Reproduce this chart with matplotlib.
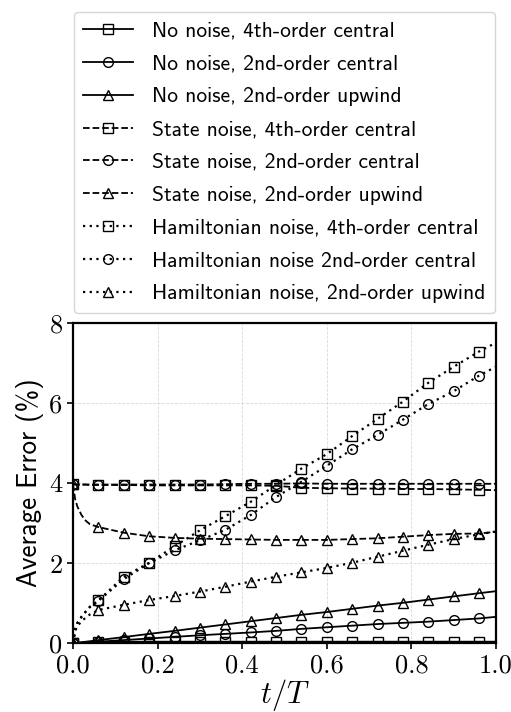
import numpy as np
import matplotlib
matplotlib.use("Agg")
import matplotlib.pyplot as plt

plt.rcParams["mathtext.fontset"] = "cm"

# time samples (fraction of T)
t = [0, 0.005, 0.01, 0.02, 0.03, 0.04, 0.06, 0.12, 0.18, 0.24, 0.30, 0.36,
     0.42, 0.48, 0.54, 0.60, 0.66, 0.72, 0.78, 0.84, 0.90, 0.96, 1.0]

# average error (%)
no_noise_4c = [0, 0.005, 0.01, 0.015, 0.02, 0.02, 0.03, 0.04, 0.04, 0.04, 0.04, 0.04,
               0.04, 0.04, 0.04, 0.04, 0.04, 0.04, 0.04, 0.04, 0.04, 0.04, 0.04]
no_noise_2c = [0, 0.003, 0.007, 0.013, 0.02, 0.026, 0.04, 0.08, 0.12, 0.16, 0.20, 0.235,
               0.27, 0.31, 0.36, 0.40, 0.44, 0.48, 0.51, 0.54, 0.58, 0.62, 0.66]
no_noise_2u = [0, 0.006, 0.013, 0.026, 0.039, 0.052, 0.078, 0.155, 0.235, 0.31, 0.39, 0.47,
               0.55, 0.63, 0.71, 0.78, 0.86, 0.94, 1.01, 1.09, 1.17, 1.25, 1.30]
state_4c = [3.97, 3.97, 3.96, 3.96, 3.96, 3.95, 3.95, 3.95, 3.94, 3.94, 3.94, 3.94,
            3.94, 3.93, 3.88, 3.87, 3.86, 3.86, 3.85, 3.85, 3.84, 3.83, 3.82]
state_2c = [3.97, 3.96, 3.96, 3.96, 3.96, 3.96, 3.96, 3.96, 3.96, 3.96, 3.96, 3.97,
            3.98, 3.98, 3.99, 3.98, 3.98, 3.98, 3.98, 3.98, 3.98, 3.98, 3.98]
state_2u = [3.97, 3.60, 3.42, 3.20, 3.06, 2.97, 2.90, 2.76, 2.67, 2.63, 2.61, 2.60,
            2.59, 2.58, 2.58, 2.58, 2.60, 2.62, 2.66, 2.70, 2.73, 2.74, 2.78]
ham_4c = [0, 0.35, 0.50, 0.66, 0.79, 0.91, 1.07, 1.66, 2.01, 2.42, 2.82, 3.17,
          3.53, 3.95, 4.36, 4.72, 5.17, 5.60, 6.03, 6.50, 6.90, 7.28, 7.50]
ham_2c = [0, 0.35, 0.50, 0.66, 0.79, 0.91, 1.06, 1.60, 2.00, 2.32, 2.57, 2.83,
          3.20, 3.65, 4.03, 4.43, 4.84, 5.20, 5.58, 5.97, 6.29, 6.68, 6.90]
ham_2u = [0, 0.30, 0.42, 0.55, 0.64, 0.72, 0.83, 0.96, 1.08, 1.18, 1.29, 1.41,
          1.54, 1.66, 1.77, 1.88, 2.01, 2.16, 2.31, 2.46, 2.60, 2.72, 2.79]

labels = ["No noise, 4th-order central", "No noise, 2nd-order central",
          "No noise, 2nd-order upwind", "State noise, 4th-order central",
          "State noise, 2nd-order central", "State noise, 2nd-order upwind",
          "Hamiltonian noise, 4th-order central", "Hamiltonian noise 2nd-order central",
          "Hamiltonian noise, 2nd-order upwind"]
series = [no_noise_4c, no_noise_2c, no_noise_2u, state_4c, state_2c, state_2u,
          ham_4c, ham_2c, ham_2u]
styles = ["-", "-", "-", "--", "--", "--", ":", ":", ":"]
markers = ["s", "o", "^"] * 3

t = np.array(t)
mark_idx = list(np.where(np.isclose(t / 0.06, np.round(t / 0.06)))[0])

fig = plt.figure(figsize=(5.11, 7.12), dpi=100)
ax = fig.add_axes([0.1429, 0.0965, 0.8277, 0.4503])

for y, ls, mk, lab in zip(series, styles, markers, labels):
    if ls == ":":
        style = dict(linestyle=(0, (1, 2)), linewidth=1.6, dash_capstyle="butt")
    else:
        style = dict(linestyle=ls, linewidth=1.3)
    ax.plot(t, y, color="k", marker=mk, markevery=mark_idx,
            markersize=7, markerfacecolor="none", markeredgecolor="k",
            markeredgewidth=1.0, label=lab, **style)

ax.set_xlim(0, 1)
ax.set_ylim(0, 8)
ax.set_xticks([0, 0.2, 0.4, 0.6, 0.8, 1.0])
ax.set_yticks([0, 2, 4, 6, 8])
ax.grid(True, color="0.85", linestyle="--", linewidth=0.6)
for s in ax.spines.values():
    s.set_linewidth(1.6)
ax.tick_params(direction="out", length=4, width=1.2, labelsize=19)
for lbl in ax.get_xticklabels() + ax.get_yticklabels():
    lbl.set_fontfamily("cmr10")

ax.set_xlabel("$t/T$", fontsize=22, labelpad=0)
ax.set_ylabel("Average Error (%)", fontsize=19.5, family=["cmss10", "DejaVu Sans"])

ax.legend(loc="lower center", bbox_to_anchor=(0.5, 1.03), borderaxespad=0,
          prop={"family": ["cmss10", "DejaVu Sans"], "size": 15.5},
          handlelength=2.3, handletextpad=0.9, labelspacing=0.64, numpoints=1,
          borderpad=0.45)

fig.savefig("out.png", dpi=100)
